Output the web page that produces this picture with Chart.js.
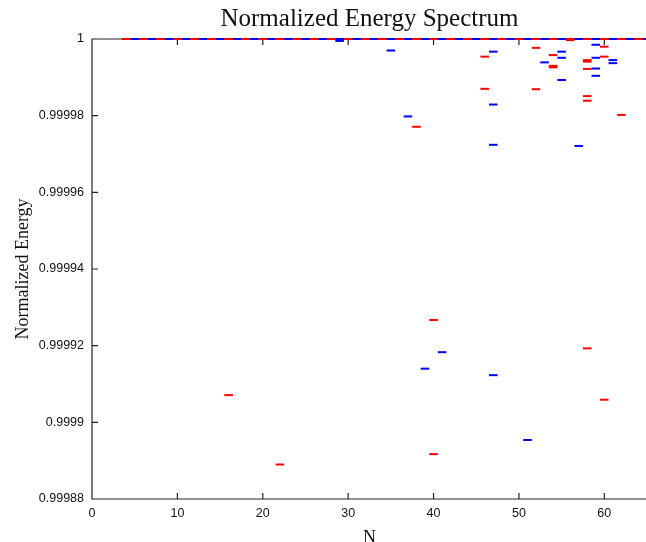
<!DOCTYPE html>
<html>
<head>
<meta charset="utf-8">
<script src="https://cdn.jsdelivr.net/npm/chart.js@4"></script>
<style>
  html, body { margin: 0; padding: 0; background: #fff; }
  #wrap { width: 646px; height: 542px; overflow: hidden; }
</style>
</head>
<body>
<div id="wrap"><canvas id="spectrum" width="660" height="542"></canvas></div>
<script>
// --- data ---
// eigenvalues sitting on 1 (alternating red/blue along the top edge)
const redTopN  = [4, 6, 8, 10, 12, 14, 16, 18, 20, 22, 24, 26, 28, 30, 32, 34, 36, 38, 40, 42, 44, 46, 48, 50, 52, 54, 56, 58, 60, 62, 64];
const redTopE  = [1, 1, 1, 1, 1, 1, 1, 1, 1, 1, 1, 1, 1, 1, 1, 1, 1, 1, 1, 1, 1, 1, 1, 1, 1, 1, 1, 1, 1, 1, 1];
const blueTopN = [5, 7, 9, 11, 13, 15, 17, 19, 21, 23, 25, 27, 29, 31, 33, 35, 37, 39, 41, 43, 45, 47, 49, 51, 53, 55, 57, 59, 61, 63, 65];
const blueTopE = [1, 1, 1, 1, 1, 1, 1, 1, 1, 1, 1, 1, 1, 1, 1, 1, 1, 1, 1, 1, 1, 1, 1, 1, 1, 1, 1, 1, 1, 1, 1];

// the rest of the spectrum
const redN = [16, 22, 38, 40, 40, 46, 46, 52, 52, 54, 54, 54, 56, 58, 58, 58, 58, 58, 58, 60, 60, 60, 62];
const redE = [0.9999071, 0.9998890, 0.9999771, 0.9999267, 0.9998917, 0.9999954, 0.9999870, 0.9999977, 0.9999869,
              0.9999958, 0.9999930, 0.9999926, 0.9999997, 0.9999945, 0.9999941, 0.9999922, 0.9999851, 0.9999839,
              0.9999193, 0.9999980, 0.9999954, 0.9999059, 0.9999802];
const blueN = [29, 35, 37, 39, 41, 47, 47, 47, 47, 51, 53, 55, 55, 55, 57, 59, 59, 59, 59, 61, 61];
const blueE = [0.9999995, 0.9999970, 0.9999798, 0.9999140, 0.9999183, 0.9999967, 0.9999829, 0.9999724, 0.9999123,
               0.9998954, 0.9999939, 0.9999967, 0.9999951, 0.9999893, 0.9999721, 0.9999985, 0.9999951, 0.9999923,
               0.9999904, 0.9999945, 0.9999937];

const xTickValues = [0, 10, 20, 30, 40, 50, 60];
const xTickLabels = ['0', '10', '20', '30', '40', '50', '60'];
const yTickValues = [0.99988, 0.9999, 0.99992, 0.99994, 0.99996, 0.99998, 1];
const yTickLabels = ['0.99988', '0.9999', '0.99992', '0.99994', '0.99996', '0.99998', '1'];

function toPoints(xs, ys) {
    return xs.map((n, i) => ({ x: n, y: ys[i] }));
}

// frame + inward ticks, gnuplot style (right side is cut off by the window)
const framePlugin = {
    id: 'frame',
    beforeDatasetsDraw(chart) {
        const { ctx, chartArea: a, scales: { x, y } } = chart;
        ctx.save();
        ctx.strokeStyle = '#222';
        ctx.lineWidth = 1.2;
        ctx.beginPath();
        ctx.rect(a.left, a.top, a.right - a.left, a.bottom - a.top);
        x.ticks.forEach(t => {
            const px = x.getPixelForValue(t.value);
            ctx.moveTo(px, a.bottom); ctx.lineTo(px, a.bottom - 6);
            ctx.moveTo(px, a.top); ctx.lineTo(px, a.top + 6);
        });
        y.ticks.forEach(t => {
            const py = y.getPixelForValue(t.value);
            ctx.moveTo(a.left, py); ctx.lineTo(a.left + 6, py);
        });
        ctx.stroke();
        ctx.restore();
    }
};

const dash = {
    showLine: false,
    pointStyle: 'line',
    pointRadius: 4.3,
    pointHoverRadius: 4.3,
    pointBorderWidth: 2,
    clip: false
};

const serif = '"Liberation Serif", "DejaVu Serif", serif';

Chart.defaults.color = '#111';
Chart.defaults.font.family = '"Liberation Sans", Arial, sans-serif';
Chart.defaults.font.size = 12.5;

new Chart(document.getElementById('spectrum'), {
    type: 'scatter',
    data: {
        datasets: [
            { ...dash, label: 'even', data: toPoints(redTopN, redTopE), borderColor: '#ff0000', backgroundColor: '#ff0000' },
            { ...dash, label: 'odd', data: toPoints(blueTopN, blueTopE), borderColor: '#0000ff', backgroundColor: '#0000ff' },
            { ...dash, label: 'even', data: toPoints(redN, redE), borderColor: '#ff0000', backgroundColor: '#ff0000' },
            { ...dash, label: 'odd', data: toPoints(blueN, blueE), borderColor: '#0000ff', backgroundColor: '#0000ff' }
        ]
    },
    options: {
        responsive: false,
        animation: false,
        events: [],
        layout: { padding: { top: 0, right: 13, bottom: 0, left: 0 } },
        plugins: {
            legend: { display: false },
            tooltip: { enabled: false },
            title: {
                display: true,
                text: 'Normalized Energy Spectrum',
                fullSize: false,
                color: '#111',
                font: { family: serif, size: 25, weight: 'normal', lineHeight: 1.2 },
                padding: { top: 4, bottom: 5 }
            }
        },
        scales: {
            x: {
                type: 'linear',
                min: 0,
                max: 65,
                grid: { display: false, drawTicks: false },
                border: { display: false },
                afterBuildTicks: s => { s.ticks = xTickValues.map(v => ({ value: v })); },
                afterFit: s => { s.height = 43; },
                ticks: { padding: 7, maxRotation: 0, callback: (v, i) => xTickLabels[i] },
                title: {
                    display: true,
                    text: 'N',
                    color: '#111',
                    font: { family: serif, size: 18, lineHeight: 0.45 },
                    padding: { top: 0, bottom: 0 }
                }
            },
            y: {
                type: 'linear',
                min: 0.99988,
                max: 1,
                grid: { display: false, drawTicks: false },
                border: { display: false },
                afterBuildTicks: s => { s.ticks = yTickValues.map(v => ({ value: v })); },
                afterFit: s => { s.width = 92; },
                ticks: { padding: 8, callback: (v, i) => yTickLabels[i] },
                title: {
                    display: true,
                    text: 'Normalized Energy',
                    color: '#111',
                    font: { family: serif, size: 18, lineHeight: 1.2 },
                    padding: { top: 12, bottom: 0 }
                }
            }
        }
    },
    plugins: [framePlugin]
});
</script>
</body>
</html>
